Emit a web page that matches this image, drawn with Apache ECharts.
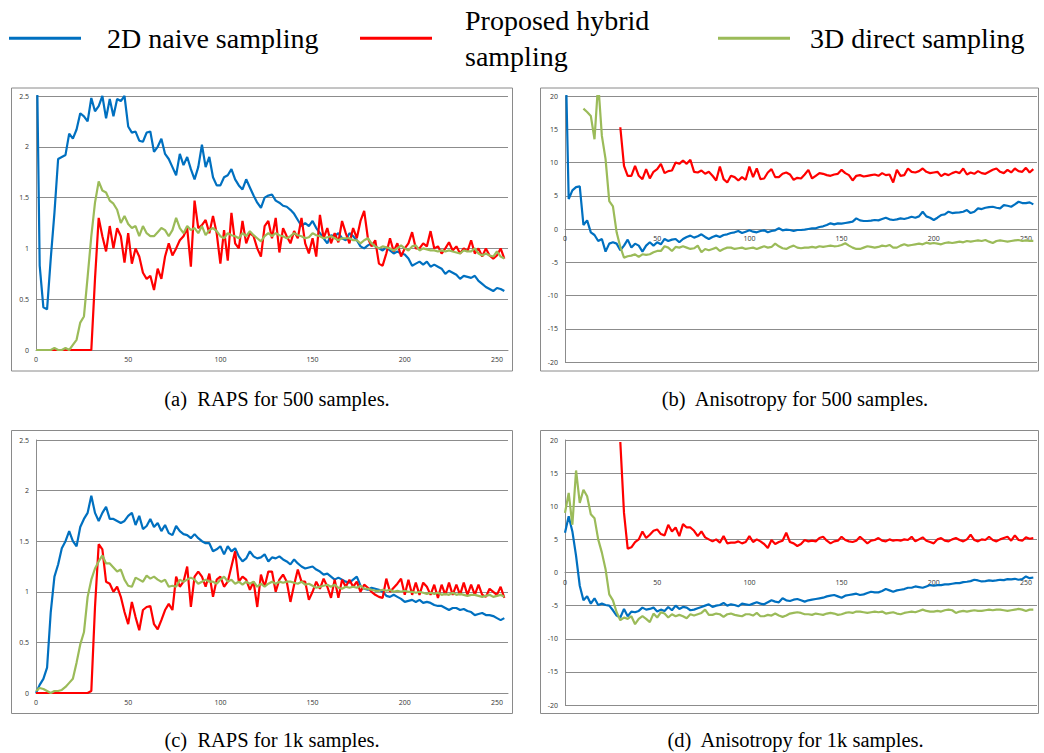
<!DOCTYPE html>
<html><head><meta charset="utf-8">
<script src="https://cdn.jsdelivr.net/npm/echarts@6/dist/echarts.min.js"></script>
<style>html,body{margin:0;padding:0;background:#fff}#c{width:1044px;height:753px}</style>
</head><body><div id="c"></div>
<script>
// frequency bins (x positions of the plotted samples)
const binX = [0,2,4,6,8,10,12,14,16,18,20,22,24,26,28,30,
32,34,36,38,40,42,44,46,48,50,52,54,56,58,60,62,
64,66,68,70,72,74,76,78,80,82,84,86,88,90,92,94,
96,98,100,102,104,106,108,110,112,114,116,118,120,122,124,126,
128,130,132,134,136,138,140,142,144,146,148,150,152,154,156,158,
160,162,164,166,168,170,172,174,176,178,180,182,184,186,188,190,
192,194,196,198,200,202,204,206,208,210,212,214,216,218,220,222,
224,226,228,230,232,234,236,238,240,242,244,246,248,250,252,254];

const seriesNames = ['2D naive sampling','Proposed hybrid sampling','3D direct sampling'];
const captions = ['(a)  RAPS for 500 samples.','(b)  Anisotropy for 500 samples.','(c)  RAPS for 1k samples.','(d)  Anisotropy for 1k samples.'];
const xTicks = [0,50,100,150,200,250];
const rapsTicks = [0,0.5,1,1.5,2,2.5];
const anisoTicks = [-20,-15,-10,-5,0,5,10,15,20];

// (a) RAPS, 500 samples
const aBlue = [3.5,0.83,0.42,0.4,0.9,1.35,1.88,1.9,1.92,2.13,2.08,2.17,2.33,2.3,2.25,2.48,
2.35,2.4,2.5,2.28,2.47,2.3,2.47,2.45,2.5,2.2,2.14,2.15,2.06,2.05,2.14,2.15,
1.95,2.0,2.08,1.93,1.88,1.8,1.72,1.93,1.82,1.9,1.78,1.68,1.8,2.02,1.8,1.9,
1.7,1.62,1.62,1.7,1.72,1.78,1.68,1.62,1.58,1.68,1.6,1.52,1.45,1.4,1.5,1.52,
1.53,1.47,1.45,1.42,1.41,1.38,1.34,1.28,1.22,1.25,1.22,1.27,1.2,1.15,1.1,1.05,
1.13,1.12,1.15,1.1,1.08,1.15,1.12,1.08,1.02,1.0,1.03,1.05,1.02,1.0,0.98,1.01,
0.98,0.95,0.97,0.95,0.94,0.9,0.83,0.85,0.87,0.84,0.87,0.82,0.84,0.82,0.8,0.75,
0.78,0.76,0.74,0.7,0.73,0.72,0.71,0.73,0.68,0.65,0.62,0.6,0.58,0.61,0.6,0.58];
const aRed = [0,0,0,0,0,0,0,0,0,0,0,0,0,0,0,0,
0.7,1.3,1.12,0.97,1.22,1.0,1.2,1.12,0.86,1.15,0.85,1.0,0.92,0.76,0.7,0.73,
0.59,0.8,0.7,0.92,1.05,0.93,1.0,1.08,1.12,1.2,0.82,1.47,1.2,1.23,1.28,1.15,
1.32,1.15,0.85,1.18,0.88,1.35,1.05,1.0,1.27,1.05,1.15,1.12,1.0,0.92,1.22,1.27,
1.1,1.3,0.96,1.2,1.12,1.05,1.17,1.1,1.3,1.05,0.95,1.1,0.92,1.33,1.1,1.2,
1.05,1.15,1.06,1.27,1.15,1.05,1.2,1.1,1.27,1.37,1.1,1.02,1.08,0.85,0.83,0.95,
1.1,0.97,1.05,0.92,1.0,1.05,1.16,1.0,1.0,1.05,1.02,1.17,1.0,1.02,0.95,1.0,
1.06,0.98,1.02,0.95,1.0,0.97,1.08,0.95,1.0,0.92,1.0,0.93,0.9,0.93,1.0,0.9];
const aGreen = [0,0,0,0,0,0.02,0,0,0.02,0,0.05,0.1,0.27,0.33,0.72,1.12,
1.45,1.66,1.57,1.55,1.47,1.44,1.38,1.25,1.32,1.24,1.2,1.22,1.12,1.22,1.15,1.12,
1.12,1.16,1.2,1.18,1.12,1.18,1.3,1.2,1.15,1.22,1.18,1.2,1.15,1.22,1.13,1.18,
1.2,1.17,1.12,1.1,1.15,1.13,1.12,1.1,1.15,1.12,1.17,1.13,1.1,1.07,1.12,1.15,
1.12,1.15,1.13,1.12,1.1,1.12,1.15,1.13,1.12,1.1,1.11,1.15,1.13,1.12,1.1,1.11,
1.12,1.1,1.08,1.1,1.1,1.1,1.08,1.08,1.05,1.08,1.1,1.05,1.02,1.0,1.02,1.01,
1.0,0.98,1.0,1.03,1.0,0.98,1.02,1.03,0.98,1.0,0.99,0.98,0.98,0.97,0.98,0.97,
0.98,0.97,0.96,0.95,0.98,0.97,0.97,1.0,0.95,0.93,0.95,0.93,0.92,0.97,0.92,0.9];

// (b) Anisotropy, 500 samples
const bBlue = [30,4.5,5.8,6.3,6.4,0.6,1.3,-0.5,-0.9,-1.8,-1.5,-3.4,-2.2,-2.0,-2.2,-3.2,
-2.5,-1.6,-2.8,-2.2,-2.5,-3.4,-2.5,-2.0,-2.5,-2.0,-2.3,-1.5,-1.8,-1.6,-1.5,-2.0,
-1.5,-1.2,-1.0,-1.3,-1.1,-0.8,-1.2,-1.5,-1.2,-1.0,-1.2,-0.9,-0.8,-0.6,-0.5,-0.3,
-0.6,-0.4,-0.2,-0.4,-0.5,-0.3,-0.2,-0.5,-0.3,-0.2,0.1,-0.2,-0.1,-0.15,-0.3,-0.15,
-0.15,-0.1,0.0,0.1,0.1,0.3,0.4,0.6,0.85,0.7,0.85,0.8,0.9,1.0,1.1,1.6,
1.3,1.2,1.2,1.25,1.35,1.3,1.5,1.7,1.45,1.35,1.45,1.6,1.5,1.65,1.85,1.7,
1.9,2.6,1.9,1.7,1.35,1.7,2.1,2.2,2.6,2.4,2.45,2.5,2.6,2.85,2.4,2.6,
3.1,3.0,3.2,3.3,3.35,3.2,3.1,3.6,3.5,3.35,3.7,4.1,3.9,3.9,4.0,3.7];
const bRed = [null,null,null,null,null,null,null,null,null,null,null,null,null,null,null,15.3,
9.5,8.0,8.0,9.5,8.0,7.5,9.0,7.6,8.6,9.0,9.8,8.4,8.7,8.8,10.0,9.8,
10.3,9.8,10.4,8.6,8.5,8.8,8.3,8.6,8.0,7.3,9.4,7.5,7.0,8.0,7.8,7.3,
7.8,7.4,9.4,7.8,9.1,7.5,7.6,8.5,9.0,7.8,7.8,8.3,8.5,8.2,7.4,7.7,
7.6,8.2,8.9,7.6,8.0,8.4,8.3,8.1,8.0,8.2,8.3,8.9,8.4,8.1,7.3,8.0,
8.1,7.9,8.0,8.1,8.2,8.0,8.4,8.1,8.2,7.0,8.9,8.0,8.1,9.1,8.6,8.5,
8.7,9.1,8.6,8.4,8.5,8.6,7.95,8.3,8.1,8.4,8.6,8.4,9.1,8.2,8.5,8.3,
8.7,8.4,8.3,8.6,8.9,9.1,8.6,8.4,8.9,8.5,9.1,8.7,8.6,9.2,8.5,9.0];
const bGreen = [null,null,null,null,null,18.1,17.6,17.0,13.5,22,14,10.5,4.2,3.4,-0.5,-2.7,
-4.3,-4.1,-4.0,-3.8,-4.2,-3.8,-3.9,-3.8,-3.5,-3.3,-3.3,-2.6,-2.8,-3.3,-2.7,-2.8,
-2.6,-2.8,-3.0,-2.9,-2.5,-3.5,-3.0,-3.2,-3.0,-2.8,-3.3,-3.0,-2.8,-2.8,-3.0,-2.9,
-2.8,-3.0,-2.9,-2.8,-3.0,-2.8,-2.6,-2.8,-2.7,-2.2,-2.6,-2.9,-3.0,-2.7,-2.5,-2.8,
-2.9,-2.8,-2.8,-2.7,-2.8,-2.6,-2.7,-2.6,-2.5,-2.6,-2.56,-2.4,-2.15,-2.5,-2.8,-3.0,
-3.0,-2.8,-2.6,-2.7,-2.8,-2.7,-2.5,-2.6,-2.4,-2.8,-2.8,-2.5,-2.3,-2.5,-2.4,-2.3,
-2.2,-2.3,-2.05,-2.2,-2.1,-2.2,-2.3,-2.1,-2.0,-2.1,-2.0,-1.9,-2.0,-1.8,-1.9,-1.8,
-1.7,-1.8,-1.65,-1.9,-2.1,-1.8,-1.7,-1.8,-1.9,-1.8,-1.7,-1.65,-1.8,-1.7,-1.8,-1.8];

// (c) RAPS, 1k samples
const cBlue = [0.0,0.08,0.14,0.25,0.8,1.15,1.27,1.43,1.5,1.6,1.5,1.45,1.64,1.72,1.78,1.95,
1.78,1.7,1.78,1.84,1.72,1.72,1.7,1.68,1.7,1.75,1.78,1.66,1.75,1.62,1.65,1.72,
1.64,1.68,1.6,1.66,1.58,1.56,1.65,1.6,1.57,1.56,1.53,1.57,1.53,1.5,1.48,1.48,
1.4,1.42,1.45,1.37,1.45,1.4,1.43,1.35,1.3,1.33,1.4,1.35,1.33,1.34,1.37,1.3,
1.34,1.33,1.35,1.32,1.3,1.27,1.32,1.28,1.25,1.23,1.24,1.25,1.22,1.2,1.17,1.18,
1.15,1.12,1.14,1.12,1.1,1.09,1.12,1.15,1.06,1.03,1.02,1.04,1.03,1.02,1.0,0.96,
0.95,0.97,0.95,0.93,0.9,0.91,0.92,0.9,0.92,0.89,0.9,0.89,0.87,0.86,0.86,0.84,
0.82,0.84,0.84,0.82,0.83,0.81,0.8,0.77,0.78,0.79,0.77,0.77,0.76,0.74,0.72,0.74];
const cRed = [0,0,0,0,0,0,0,0,0,0,0,0,0,0,0,0.02,
0.85,1.47,1.42,1.1,1.08,1.0,1.05,0.95,0.8,0.68,0.9,0.75,0.62,0.82,0.85,0.86,
0.68,0.63,0.72,0.82,0.88,0.82,1.15,1.05,1.1,1.25,0.85,1.15,1.2,1.15,1.05,1.18,
0.95,1.12,1.15,1.05,1.1,1.25,1.4,1.1,1.15,1.12,1.02,1.1,0.85,1.17,1.05,1.2,
1.2,1.0,1.12,1.17,1.1,0.9,1.07,1.22,1.1,1.1,0.92,1.0,1.1,1.03,1.13,1.05,
0.94,1.12,0.94,1.12,1.05,1.12,1.05,1.1,1.0,1.07,1.04,1.0,0.97,0.95,0.94,1.13,
1.0,1.04,1.08,1.13,0.97,1.12,0.97,1.09,0.97,1.09,1.05,0.97,1.07,0.94,1.07,0.97,
1.09,0.97,1.07,0.97,1.09,0.97,1.07,0.97,1.07,0.97,0.95,1.03,1.0,0.97,1.05,0.94];
const cGreen = [0.02,0.05,0.04,0.02,0.0,0.02,0.02,0.03,0.06,0.1,0.14,0.3,0.48,0.6,0.95,1.12,
1.23,1.3,1.36,1.28,1.28,1.24,1.2,1.22,1.12,1.06,1.05,1.14,1.12,1.1,1.16,1.13,
1.15,1.12,1.1,1.12,1.05,1.06,1.05,1.12,1.1,1.12,1.14,1.12,1.08,1.1,1.12,1.1,
1.1,1.08,1.12,1.15,1.1,1.12,1.08,1.1,1.07,1.1,1.08,1.1,1.05,1.08,1.05,1.08,
1.1,1.08,1.1,1.09,1.1,1.1,1.09,1.08,1.1,1.07,1.08,1.06,1.04,1.05,1.06,1.07,
1.05,1.07,1.04,1.03,1.05,1.04,1.05,1.04,1.06,1.03,1.03,1.02,1.01,1.01,1.02,1.01,
1.02,1.0,1.01,1.0,1.01,1.0,1.0,0.99,1.0,0.99,0.98,0.99,0.98,0.99,0.97,0.98,
0.97,0.99,0.97,0.98,0.97,0.96,0.97,0.97,0.96,0.95,0.96,0.97,0.95,0.96,0.97,0.95];

// (d) Anisotropy, 1k samples
const dBlue = [6.0,8.5,6.2,2.5,-2.0,-4.2,-3.6,-4.7,-3.9,-4.9,-4.7,-4.9,-5.0,-5.7,-6.5,-6.8,
-5.5,-6.6,-5.9,-6.0,-5.8,-5.3,-5.6,-5.5,-5.3,-5.9,-5.6,-5.8,-5.2,-5.7,-5.0,-5.5,
-5.2,-5.3,-5.7,-5.6,-5.4,-5.2,-5.0,-4.8,-5.2,-5.0,-4.9,-4.6,-5.0,-4.8,-4.9,-5.1,
-4.7,-4.8,-4.9,-4.7,-4.5,-4.7,-4.8,-4.5,-4.2,-4.4,-4.5,-3.9,-4.2,-4.3,-4.1,-4.0,
-4.2,-4.4,-4.2,-4.1,-4.0,-3.9,-3.8,-3.6,-3.5,-3.4,-3.6,-3.8,-3.5,-3.4,-3.3,-3.2,
-3.4,-3.3,-3.1,-2.9,-3.0,-3.0,-2.8,-2.5,-2.7,-2.9,-2.7,-2.6,-2.5,-2.3,-2.3,-2.1,
-2.2,-2.3,-2.1,-1.9,-2.0,-1.9,-1.9,-1.8,-1.8,-1.7,-1.6,-1.6,-1.45,-1.4,-1.3,-1.1,
-1.2,-1.35,-1.3,-1.2,-1.25,-1.2,-1.1,-1.15,-1.0,-1.05,-0.95,-1.1,-1.0,-0.6,-0.85,-0.75];
const dRed = [null,null,null,null,null,null,null,null,null,null,null,null,null,null,null,19.7,
9.0,3.6,3.8,4.6,5.0,6.2,5.2,5.7,6.3,6.5,5.8,5.6,7.2,6.2,6.8,5.5,
7.3,6.8,6.8,6.3,5.5,6.2,5.3,5.0,4.7,5.0,4.5,5.5,4.4,4.5,4.5,4.7,
4.4,4.6,5.5,4.6,5.0,4.7,4.3,3.7,4.9,4.3,4.6,4.8,6.0,4.6,4.4,4.0,
4.3,4.9,4.7,4.8,4.7,5.2,5.4,4.8,4.4,4.7,4.8,5.4,4.9,4.7,4.6,4.8,
5.4,4.9,4.4,4.8,4.9,5.2,4.8,4.7,5.0,4.8,4.9,4.8,5.0,4.9,5.4,4.7,
5.0,5.3,4.8,4.6,4.4,5.0,5.2,4.8,4.7,5.0,5.2,4.9,4.7,5.0,5.7,4.9,
4.7,5.0,4.9,5.4,4.9,4.7,5.0,5.2,5.4,4.8,5.6,4.9,4.8,5.3,5.1,5.2];
const dGreen = [9.0,12.0,7.2,15.4,10.5,12.5,11.5,8.8,8.2,5.0,3.0,0.5,-3.3,-4.2,-6.0,-7.2,
-6.8,-7.0,-6.6,-7.8,-7.0,-6.6,-7.0,-7.5,-6.2,-6.8,-6.0,-6.2,-6.8,-6.3,-6.6,-6.4,
-6.6,-6.9,-6.3,-6.5,-6.3,-6.1,-5.6,-6.4,-6.4,-6.2,-6.3,-6.7,-6.3,-6.2,-6.4,-6.5,
-6.6,-6.3,-6.3,-6.5,-6.1,-6.6,-6.6,-6.4,-6.5,-6.2,-6.5,-6.7,-6.5,-6.2,-6.1,-6.0,
-6.1,-6.3,-6.3,-6.4,-6.2,-6.3,-6.4,-6.2,-6.1,-6.2,-6.4,-6.3,-6.1,-6.0,-6.1,-5.9,
-5.9,-6.0,-6.1,-6.0,-5.9,-6.0,-5.9,-6.2,-6.1,-6.0,-6.2,-6.3,-6.1,-6.0,-5.9,-6.0,
-5.8,-5.6,-5.8,-5.9,-5.9,-5.8,-5.9,-5.7,-5.6,-5.7,-6.1,-5.9,-5.8,-5.9,-5.8,-5.7,
-5.8,-5.8,-5.7,-5.6,-5.7,-5.6,-5.6,-5.7,-5.8,-5.7,-5.6,-5.5,-5.6,-5.8,-5.6,-5.6];

const panels = [[aBlue,aRed,aGreen],[bBlue,bRed,bGreen],[cBlue,cRed,cGreen],[dBlue,dRed,dGreen]];
const colors = ['#0070C0','#FF0000','#9BBB59'];
const gridColor = '#8c8c8c';
const tickFont = {fontFamily:'"Open Sans", "Liberation Sans", sans-serif', fontSize:7, color:'#333'};

const grids = [
  {left:36, top:96, width:472, height:254},
  {left:565, top:96, width:472, height:266},
  {left:36, top:440, width:472, height:253},
  {left:565, top:440, width:472, height:265}
];
const yTickSets = [rapsTicks, anisoTicks, rapsTicks, anisoTicks];

const xAxes = grids.map((g,i)=>{
  const t = yTickSets[i];
  const lo = t[0], hi = t[t.length-1];
  // the horizontal axis crosses the vertical one at value 0
  const zeroOffset = -g.height * (0 - lo) / (hi - lo);
  return {
    type:'value', gridIndex:i, min:xTicks[0], max:256, interval:xTicks[1]-xTicks[0],
    offset: zeroOffset,
    axisLine:{show:true, onZero:false, lineStyle:{color:gridColor, width:1}},
    axisTick:{show:false}, splitLine:{show:false},
    axisLabel:Object.assign({margin:6, showMaxLabel:false, hideOverlap:false}, tickFont)
  };
});
const yAxes = grids.map((g,i)=>{
  const t = yTickSets[i];
  return {
    type:'value', gridIndex:i, min:t[0], max:t[t.length-1], interval:t[1]-t[0],
    axisLine:{show:true, onZero:false, lineStyle:{color:gridColor, width:1}},
    axisTick:{show:false},
    splitLine:{show:true, lineStyle:{color:gridColor, width:1}},
    axisLabel:Object.assign({margin:7}, tickFont)
  };
});

const series = [];
panels.forEach((sets,pi)=>{
  sets.forEach((arr,si)=>{
    series.push({
      type:'line', name:seriesNames[si], xAxisIndex:pi, yAxisIndex:pi,
      data: binX.map((x,k)=>[x, arr[k]]).filter(p=>p[1]!==null),
      showSymbol:false, symbol:'none', clip:true,
      lineStyle:{color:colors[si], width:2.2}, itemStyle:{color:colors[si]},
      z: 2 + si
    });
  });
});

const legendFont = {fontFamily:'"Liberation Serif", "DejaVu Serif", serif', fontSize:28, color:'#000', lineHeight:36};
function mkLegend(name, left, top, pad){
  return {
    data:[name], left:left, top:top, orient:'horizontal', padding:0,
    icon:'rect', itemWidth:72, itemHeight:3, selectedMode:false,
    formatter: n => n === 'Proposed hybrid sampling' ? 'Proposed hybrid\nsampling' : n,
    textStyle:Object.assign({padding:pad}, legendFont)
  };
}

const captionFont = '20.5px "Liberation Serif", "DejaVu Serif", serif';
const capPos = [[277,399],[795,399],[272,740],[795.5,740]];
const frames = [[11.5,88,501,283],[540.5,88,498,283],[11.5,430.5,501,283],[540.5,430.5,498,283]];

const graphic = [];
frames.forEach(f=>graphic.push({type:'rect', shape:{x:f[0],y:f[1],width:f[2],height:f[3]}, style:{fill:'none', stroke:'#8a8a8a', lineWidth:1}, silent:true}));
captions.forEach((c,i)=>graphic.push({type:'text', x:capPos[i][0], y:capPos[i][1], style:{text:c, font:captionFont, fill:'#000', textAlign:'center', textVerticalAlign:'middle'}, silent:true}));

const chart = echarts.init(document.getElementById('c'), null, {renderer:'svg', width:1044, height:753});
chart.setOption({
  animation:false,
  backgroundColor:'#fff',
  grid:grids,
  xAxis:xAxes,
  yAxis:yAxes,
  legend:[
    mkLegend(seriesNames[0], 9, 14.3, [0,0,12,21]),
    mkLegend(seriesNames[1], 360, 2.3, [0,0,0,28]),
    mkLegend(seriesNames[2], 718, 14.3, [0,0,12,15])
  ],
  graphic:graphic,
  series:series
});
</script>
</body></html>
